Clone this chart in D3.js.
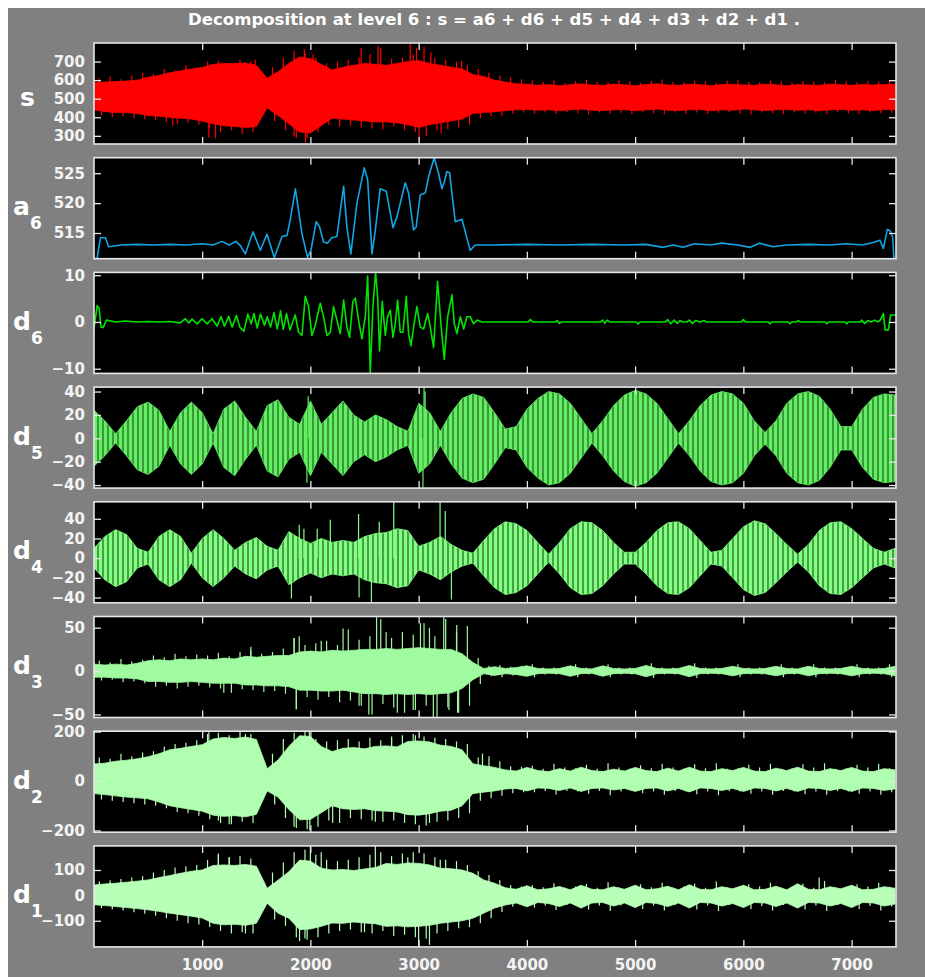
<!DOCTYPE html>
<html>
<head>
<meta charset="utf-8">
<script src="https://cdn.jsdelivr.net/npm/d3@7"></script>
<style>
  body { margin: 0; background: #fff; }
</style>
</head>
<body>
<div id="chart"></div>
<script>
// signal length and the grid (every 100 samples) the envelopes were read on
const nSamples = 7410;
const envStep = 100;
const xTicks = [1000, 2000, 3000, 4000, 5000, 6000, 7000];

// s : upper / lower envelope (t = 0, 100, ...), and outer fringe (t = 50, 150, ...)
const sUpper = [585,590,592,595,600,615,625,640,650,660,668,685,690,690,692,680,610,645,690,725,
  715,685,655,670,680,690,685,680,690,700,705,690,680,670,660,630,620,600,590,580,
  578,572,576,570,575,580,574,572,578,575,570,576,580,574,572,578,575,570,576,578,
  574,572,578,575,570,576,574,572,578,575,572,576,574,576,578];
const sLower = [440,430,425,425,420,410,405,400,395,390,380,365,355,350,345,350,450,410,365,320,
  315,355,395,390,385,380,375,375,370,360,345,360,370,380,390,420,425,430,435,440,
  442,438,440,435,440,444,438,436,440,442,435,440,444,438,436,440,442,435,440,438,
  444,440,436,440,442,438,440,435,440,442,438,440,436,442,440];
const sFringeUp = [610,620,605,625,640,635,660,650,680,670,700,705,690,710,700,640,670,720,760,745,
  720,690,700,710,720,740,775,715,720,740,780,720,710,700,680,660,640,625,615,605,
  600,590,598,585,595,602,590,588,600,594,585,596,603,590,588,598,594,586,597,600,
  590,588,598,594,586,596,592,588,600,594,588,596,592,598];
const sFringeDown = [410,400,405,395,390,385,375,365,370,360,345,320,330,310,320,430,380,330,290,285,
  320,360,350,355,345,340,335,350,330,320,300,330,335,345,360,395,405,410,420,425,
  420,425,418,428,422,415,426,420,424,418,428,422,416,425,420,426,418,424,428,420,
  416,425,422,418,426,420,424,418,427,421,417,425,422,424];
const sSpikeT = [728,1062,1124,1490,1849,1944,1954,2025,2469,2626,2922,2980,3004,3113,3208,3398];
const sSpikeV = [356,290,286,710,295,766,263,740,775,784,798,775,268,749,312,705];

// a6 : approximation (line)
const a6T = [1,30,60,106,137,250,400,550,700,850,1000,1100,1183,1250,1313,1353,1399,1470,1537,1599,
  1667,1738,1784,1814,1861,1922,1974,2005,2054,2085,2122,2156,2199,2245,2307,2337,2374,2430,2498,2529,
  2569,2600,2645,2701,2763,2800,2876,2907,2953,2977,3015,3062,3093,3144,3184,3215,3236,3261,3286,3338,
  3400,3476,3522,3700,4000,4300,4600,4900,5100,5260,5350,5443,5550,5700,5800,5950,6062,6150,6274,6400,
  6600,6800,6950,7100,7200,7262,7293,7330,7354,7380,7390,7410];
const a6V = [510.7,510.8,514.2,514.2,512.7,513.0,513.1,513.0,513.1,513.0,513.2,513.0,513.6,513.0,513.6,512.9,511.5,515.2,512.1,514.8,
  510.9,514.4,514.6,517.2,522.4,514.9,510.9,512.1,516.9,516.0,513.5,513.3,514.2,514.4,522.8,516.0,511.5,520.0,525.9,523.9,
  511.5,515.5,522.4,522.0,515.9,517.7,523.4,521.7,515.5,516.0,521.4,521.7,524.5,527.6,525.0,522.4,523.5,525.3,525.1,516.9,
  517.3,512.1,513.0,513.0,513.1,513.0,513.1,513.0,513.1,512.6,513.0,512.6,513.2,513.0,513.3,513.0,512.6,513.3,512.7,513.0,
  513.1,513.0,513.2,513.0,513.4,513.8,512.4,515.6,515.4,514.2,510.7,510.7];

// d6 : detail (line)
const d6T = [1,30,48,66,85,116,200,291,400,500,600,700,799,845,876,907,953,999,1046,1092,
  1138,1175,1206,1246,1277,1317,1348,1385,1422,1453,1478,1509,1539,1576,1601,1632,1663,1694,1724,1749,
  1780,1811,1860,1891,1922,1953,1983,2014,2045,2091,2122,2153,2184,2214,2245,2276,2307,2338,2362,2393,
  2415,2445,2476,2507,2529,2553,2578,2602,2621,2639,2664,2692,2713,2738,2763,2784,2806,2830,2855,2886,
  2907,2929,2954,2984,3015,3046,3083,3108,3138,3175,3206,3237,3268,3308,3329,3354,3385,3416,3446,3477,
  3508,3539,3585,3800,4010,4032,4055,4260,4278,4300,4320,4680,4700,4720,4740,4769,5010,5028,5046,5280,
  5300,5330,5360,5390,5415,5440,5480,5500,5530,5560,5600,5640,5661,5980,6000,6020,6230,6245,6260,6415,
  6430,6450,6490,6508,6525,6755,6770,6785,6940,6955,6970,7080,7092,7120,7150,7180,7215,7240,7262,7293,
  7310,7340,7360,7410];
const d6V = [-1.5,3.5,2.9,-1.1,-1.2,0.4,0,0.2,0,0.1,0,0.1,-0.2,0.7,-0.2,0.6,-0.4,0.7,-0.4,0.7,
  -0.9,1.1,-0.9,1.2,-1.1,1.4,-1.1,-2.0,1.7,-0.4,1.8,-1.3,1.7,-0.7,1.1,-1.1,2.0,-1.5,2.4,-1.6,
  1.8,-1.7,1.5,-2.2,-2.9,5.5,3.3,-2.9,-0.7,4.0,1.1,-2.9,-2.2,3.3,0.4,-2.5,4.7,-1.1,-3.3,4.4,
  5.1,0.4,-3.6,1.1,9.8,-10.9,3.3,10.6,5.5,-6.2,4.4,-2.9,1.1,2.5,-3.3,-0.4,4.7,-2.2,-2.2,5.5,
  -2.5,-5.1,-1.1,3.3,-1.1,-1.5,1.8,-1.1,-5.5,8.7,-0.4,-8.0,1.1,5.8,-0.4,-2.5,1.1,-1.5,1.1,1.1,
  -0.4,0.4,0,0,0,0.5,0,0,0.3,-0.3,0,0,0.4,-0.3,0.4,0,0,-0.4,0,0,
  0.5,-0.4,0.4,-0.3,0.3,0,0,0.4,-0.3,0.3,0,0.3,0,0,0.5,0,0,-0.4,0,0,
  -0.4,0,0,0.3,0,0,-0.4,0,0,-0.4,0,0,0.4,-0.3,0.3,0,0.4,0,0.3,1.8,
  -1.7,-1.7,1.5,1.5];

// d5, d4 : amplitude of the oscillation (symmetric envelope)
const d5Amp = [24,15,4,15,27,31,24,6,22,31,22,4,25,32,18,6,28,33,18,12,
  32,12,22,32,20,14,20,16,10,6,30,22,6,22,34,38,35,22,8,10,
  25,34,40,38,30,17,4,15,28,37,41,38,30,17,4,15,28,37,40,38,
  30,15,5,15,30,38,40,36,25,10,10,25,35,38,37];
const d5SpikeT = [1968,1980,3040,3050,3060];
const d5SpikeV = [-38,36,-42,44,40];

const d4Amp = [10,22,29,24,10,6,22,29,22,5,20,29,20,8,16,21,12,8,27,20,
  15,20,16,18,16,22,25,26,30,28,12,16,22,14,8,5,18,30,37,35,
  28,16,4,16,30,37,36,28,16,6,6,16,28,36,37,30,18,6,8,20,
  32,38,35,25,14,4,14,28,36,37,30,20,10,6,10];
const d4SpikeT = [1825,1897,1940,2063,2184,2445,2450,2564,2636,2770,3198,3246,3303];
const d4SpikeV = [-41,34,30,30,39,45,-40,-46,37,57,58,48,-42];

// d3, d2, d1 : upper / lower envelope and outer fringe
const d3Upper = [8,7,8,7,9,12,13,12,14,13,14,13,15,14,17,16,17,18,18,22,
  23,22,24,23,24,25,25,26,25,26,27,26,25,25,20,10,3,5,3,4,
  6,3,2.5,3,6,3,2.5,6,3,2.5,3,6.5,3,2.5,3,6.5,3,2.5,3,5.5,
  3,2.5,3,5.5,3,2.5,5.5,3,2.5,3,5.5,3,2.5,3,5.5];
const d3Lower = [-7,-7,-8,-8,-9,-12,-12,-13,-13,-12,-13,-14,-14,-14,-16,-16,-17,-17,-18,-22,
  -22,-23,-23,-22,-24,-26,-26,-27,-26,-27,-26,-27,-26,-25,-20,-10,-3,-5,-3,-4,
  -6,-3,-2.5,-3,-6,-3,-2.5,-6,-3,-2.5,-3,-6.5,-3,-2.5,-3,-6.5,-3,-2.5,-3,-5.5,
  -3,-2.5,-3,-5.5,-3,-2.5,-5.5,-3,-2.5,-3,-5.5,-3,-2.5,-3,-5.5];
const d3FringeUp = [12,10,14,11,13,18,16,20,17,19,18,21,17,22,24,20,22,26,38,30,
  32,35,30,48,36,40,60,38,45,42,55,40,60,45,52,15,6,7,5,6,
  8,4,4,4,8,4,4,8,4,4,4,9,4,4,4,9,4,4,4,8,
  4,4,4,8,4,4,8,4,4,4,8,4,4,8];
const d3FringeDown = [-11,-10,-13,-12,-14,-18,-17,-20,-18,-17,-19,-20,-25,-21,-22,-24,-23,-26,-44,-30,
  -33,-30,-36,-34,-40,-50,-38,-42,-48,-45,-40,-54,-42,-48,-40,-15,-6,-7,-5,-6,
  -7,-4,-4,-4,-7,-4,-4,-7,-4,-4,-4,-8,-4,-4,-4,-8,-4,-4,-4,-7,
  -4,-4,-4,-7,-4,-4,-7,-4,-4,-4,-7,-4,-4,-7];
const d3SpikeT = [1200,1450,1849,1870,1897,2100,2302,2450,2540,2612,2700,2803,2950,3017,3100,3136,3232,3280,3352,3360];
const d3SpikeV = [-25,28,38,-44,40,35,49,-40,-50,62,45,-48,-45,55,50,-54,62,-45,53,-48];

const d2Upper = [69,72,80,84,90,98,110,126,132,140,147,170,176,172,178,168,50,85,140,183,
  180,140,119,132,135,130,140,142,138,160,162,158,145,140,126,70,62,55,
  45,40,55,42,38,50,40,56,42,38,48,40,55,42,38,52,40,56,40,38,
  50,42,55,40,38,52,42,56,40,38,50,42,55,40,38,50,45];
const d2Lower = [-51,-55,-60,-65,-68,-72,-85,-100,-108,-115,-122,-138,-143,-140,-145,-135,-40,-65,-115,-157,
  -155,-128,-100,-112,-115,-112,-120,-122,-125,-136,-138,-132,-122,-118,-100,-51,-45,-40,
  -32,-30,-40,-28,-30,-38,-28,-42,-30,-28,-36,-30,-42,-30,-28,-40,-30,-44,-28,-30,
  -38,-30,-42,-28,-30,-40,-30,-42,-28,-30,-38,-30,-42,-28,-30,-38,-32];
const d2FringeUp = [95,90,110,100,115,120,140,150,155,165,190,195,185,200,190,60,110,170,195,200,
  170,160,165,170,160,175,165,180,185,190,180,175,170,160,150,95,100,80,60,58,
  62,50,70,55,52,66,50,72,55,50,64,52,70,55,50,68,52,72,50,52,
  66,55,70,50,52,68,55,72,50,52,66,55,70,52];
const d2FringeDown = [-75,-80,-85,-90,-95,-100,-110,-125,-130,-140,-155,-170,-175,-165,-170,-55,-95,-150,-190,-195,
  -185,-160,-170,-150,-155,-160,-165,-160,-170,-175,-180,-165,-160,-150,-130,-80,-70,-60,-50,-45,
  -45,-40,-55,-40,-42,-52,-40,-58,-42,-40,-50,-42,-56,-40,-42,-54,-42,-58,-40,-42,
  -52,-42,-56,-40,-42,-54,-42,-56,-40,-42,-52,-42,-56,-45];
const d2SpikeT = [1062,1150,1250,1400,1849,1990,1995,2206,2600,2750,2970,3100,3590];
const d2SpikeV = [197,-160,-175,190,-185,200,-200,-170,-165,175,185,-170,111];

const d1Upper = [41,45,48,52,56,61,70,78,87,95,100,118,120,118,122,115,28,60,93,139,
  135,107,100,102,98,104,110,126,122,128,126,120,107,105,100,87,61,48,
  30,24,38,22,26,35,22,40,24,22,34,24,40,22,26,36,22,42,24,22,
  34,26,40,22,24,36,22,46,24,22,34,26,40,22,24,34,28];
const d1Lower = [-37,-40,-44,-48,-52,-57,-63,-70,-76,-82,-89,-110,-116,-114,-118,-110,-31,-70,-90,-135,
  -132,-122,-109,-110,-105,-109,-112,-122,-120,-124,-122,-118,-110,-105,-100,-90,-70,-50,
  -38,-30,-45,-28,-32,-44,-30,-50,-30,-28,-42,-30,-48,-28,-32,-44,-30,-50,-28,-30,
  -42,-32,-48,-28,-30,-44,-30,-50,-28,-30,-42,-32,-48,-28,-30,-42,-34];
const d1FringeUp = [55,60,65,70,75,90,100,110,115,120,140,160,150,155,145,45,90,130,170,180,
  160,140,135,140,150,160,170,155,165,170,165,150,140,135,120,95,80,60,40,35,
  40,32,48,30,35,45,30,52,32,30,44,32,50,30,35,46,30,55,32,30,
  44,35,50,30,32,46,30,56,32,30,44,35,50,34];
const d1FringeDown = [-50,-55,-60,-66,-72,-80,-90,-100,-110,-115,-125,-140,-150,-145,-150,-45,-95,-120,-165,-175,
  -165,-150,-140,-135,-145,-150,-140,-160,-155,-165,-170,-150,-140,-130,-125,-110,-90,-65,-45,-40,
  -48,-40,-58,-38,-42,-56,-40,-62,-40,-38,-54,-40,-60,-38,-42,-56,-40,-62,-38,-40,
  -54,-42,-60,-38,-40,-56,-40,-62,-38,-40,-54,-42,-60,-44];
const d1SpikeT = [1150,1250,1400,1900,1950,2000,2100,2500,2600,2900,3000,3100,3200,6700];
const d1SpikeV = [165,150,-150,-180,-170,194,170,-145,195,150,-200,-195,140,70];

// ---------------------------------------------------------------
const width = 925, height = 977;
const plotLeft = 94, plotRight = 896;
const panelTop = 43, panelStep = 114.7, panelHeight = 101;
const envT = d3.range(0, nSamples, envStep);

const panels = [
  {name: 's', sub: '', kind: 'env', up: sUpper, lo: sLower, fUp: sFringeUp, fDown: sFringeDown, base: 510,
   spT: sSpikeT, spV: sSpikeV, domain: [256, 800], ticks: [300, 400, 500, 600, 700], color: '#ff0000'},
  {name: 'a', sub: '6', kind: 'line', t: a6T, v: a6V, domain: [510.7, 527.6], ticks: [515, 520, 525], color: '#14a4e4'},
  {name: 'd', sub: '6', kind: 'line', t: d6T, v: d6V, domain: [-11, 10.6], ticks: [-10, 0, 10], color: '#00e400'},
  {name: 'd', sub: '5', kind: 'amp', amp: d5Amp, base: 0, spT: d5SpikeT, spV: d5SpikeV,
   domain: [-42.6, 43.8], ticks: [-40, -20, 0, 20, 40], color: '#62f062'},
  {name: 'd', sub: '4', kind: 'amp', amp: d4Amp, base: 0, spT: d4SpikeT, spV: d4SpikeV,
   domain: [-45.4, 57.3], ticks: [-40, -20, 0, 20, 40], color: '#80ff80'},
  {name: 'd', sub: '3', kind: 'env', up: d3Upper, lo: d3Lower, fUp: d3FringeUp, fDown: d3FringeDown, base: 0,
   spT: d3SpikeT, spV: d3SpikeV, domain: [-53.5, 62.9], ticks: [-50, 0, 50], color: '#a0faa0'},
  {name: 'd', sub: '2', kind: 'env', up: d2Upper, lo: d2Lower, fUp: d2FringeUp, fDown: d2FringeDown, base: 0,
   spT: d2SpikeT, spV: d2SpikeV, domain: [-207, 201.4], ticks: [-200, 0, 200], color: '#b0ffb0'},
  {name: 'd', sub: '1', kind: 'env', up: d1Upper, lo: d1Lower, fUp: d1FringeUp, fDown: d1FringeDown, base: 0,
   spT: d1SpikeT, spV: d1SpikeV, domain: [-203, 195], ticks: [-100, 0, 100], color: '#b8ffb8'}
];

const svg = d3.select('#chart').append('svg')
  .attr('width', width)
  .attr('height', height);

const defs = svg.append('defs');

// figure background
svg.append('rect')
  .attr('x', 8).attr('y', 8)
  .attr('width', width - 8).attr('height', height - 8)
  .attr('fill', '#808080');

// title
svg.append('text')
  .attr('x', 494).attr('y', 25)
  .attr('text-anchor', 'middle')
  .attr('fill', '#ffffff')
  .attr('font-family', 'DejaVu Sans, sans-serif')
  .attr('font-weight', 'bold')
  .attr('font-size', '15px')
  .attr('textLength', 612)
  .attr('lengthAdjust', 'spacingAndGlyphs')
  .text('Decomposition at level 6 : s = a6 + d6 + d5 + d4 + d3 + d2 + d1 .');

const x = d3.scaleLinear().domain([1, nSamples]).range([plotLeft, plotRight]);
const frameColor = '#e6e6e6';

panels.forEach((p, i) => {
  const top = panelTop + i * panelStep;
  const bottom = top + panelHeight;
  const y = d3.scaleLinear().domain(p.domain).range([bottom, top]);

  const g = svg.append('g').attr('class', 'panel panel-' + i);

  // black plot area
  g.append('rect')
    .attr('x', plotLeft).attr('y', top)
    .attr('width', plotRight - plotLeft).attr('height', panelHeight)
    .attr('fill', '#000');

  const clipId = 'clip-' + i;
  defs.append('clipPath').attr('id', clipId)
    .append('rect')
    .attr('x', plotLeft).attr('y', top)
    .attr('width', plotRight - plotLeft).attr('height', panelHeight);

  const plot = g.append('g').attr('clip-path', 'url(#' + clipId + ')');

  if (p.kind === 'line') {
    const line = d3.line()
      .x((d, k) => x(p.t[k]))
      .y(d => y(d));
    plot.append('path')
      .attr('d', line(p.v))
      .attr('fill', 'none')
      .attr('stroke', p.color)
      .attr('stroke-width', 1.6)
      .attr('stroke-linejoin', 'round');
  } else {
    let up, lo, fill = p.color;
    if (p.kind === 'amp') {
      up = p.amp;
      lo = p.amp.map(a => -a);
      // vertical dark stripes of the oscillation
      const patId = 'stripes-' + i;
      const pat = defs.append('pattern').attr('id', patId)
        .attr('patternUnits', 'userSpaceOnUse')
        .attr('x', plotLeft).attr('width', 5).attr('height', 10);
      pat.append('rect').attr('width', 5).attr('height', 10).attr('fill', p.color);
      pat.append('rect').attr('x', 3.5).attr('width', 1).attr('height', 10).attr('fill', '#153d15');
      fill = 'url(#' + patId + ')';
    } else {
      up = p.up;
      lo = p.lo;
    }

    // ragged outer fringe, one stroke up and one down between envelope points
    if (p.fUp) {
      const fr = plot.append('g').attr('class', 'fringe')
        .attr('stroke', p.color).attr('stroke-width', 1.2);
      fr.selectAll('line.up')
        .data(p.fUp)
        .enter().append('line').attr('class', 'up')
          .attr('x1', (d, k) => x(envT[k] + 50)).attr('x2', (d, k) => x(envT[k] + 50))
          .attr('y1', y(p.base)).attr('y2', d => y(d));
      fr.selectAll('line.down')
        .data(p.fDown)
        .enter().append('line').attr('class', 'down')
          .attr('x1', (d, k) => x(envT[k] + 70)).attr('x2', (d, k) => x(envT[k] + 70))
          .attr('y1', y(p.base)).attr('y2', d => y(d));
    }

    const area = d3.area()
      .x((d, k) => x(envT[k] + 1))
      .y0((d, k) => y(lo[k]))
      .y1(d => y(d));
    plot.append('path')
      .attr('d', area(up))
      .attr('fill', fill)
      .attr('stroke', p.color)
      .attr('stroke-width', 0.8);

    plot.append('g').selectAll('line')
      .data(p.spT)
      .enter().append('line')
        .attr('x1', d => x(d)).attr('x2', d => x(d))
        .attr('y1', y(p.base))
        .attr('y2', (d, k) => y(p.spV[k]))
        .attr('stroke', p.color)
        .attr('stroke-width', 1.2);
  }

  // axes: ticks inside on all four sides
  const styleAxis = sel => {
    sel.select('.domain').remove();
    sel.selectAll('line').attr('stroke', frameColor).attr('stroke-width', 1.3);
    sel.attr('font-family', 'DejaVu Sans, sans-serif')
      .attr('font-weight', 'bold')
      .attr('font-size', '15px');
    sel.selectAll('text').attr('fill', '#f4f4f4');
  };

  g.append('g')
    .attr('transform', 'translate(' + plotLeft + ',0)')
    .call(d3.axisLeft(y).tickValues(p.ticks).tickSize(-7).tickPadding(9))
    .call(styleAxis);

  g.append('g')
    .attr('transform', 'translate(' + plotRight + ',0)')
    .call(d3.axisRight(y).tickValues(p.ticks).tickSize(-7).tickFormat(''))
    .call(styleAxis);

  g.append('g')
    .attr('transform', 'translate(0,' + top + ')')
    .call(d3.axisTop(x).tickValues(xTicks).tickSize(-7).tickFormat(''))
    .call(styleAxis);

  const isLast = i === panels.length - 1;
  g.append('g')
    .attr('transform', 'translate(0,' + bottom + ')')
    .call(d3.axisBottom(x).tickValues(xTicks).tickSize(-7).tickPadding(12)
      .tickFormat(isLast ? d3.format('d') : ''))
    .call(styleAxis);

  // frame
  g.append('rect')
    .attr('x', plotLeft).attr('y', top)
    .attr('width', plotRight - plotLeft).attr('height', panelHeight)
    .attr('fill', 'none')
    .attr('stroke', frameColor)
    .attr('stroke-width', 1.6);

  // panel label, e.g. d with subscript 5
  const cy = (top + bottom) / 2;
  const label = g.append('text')
    .attr('x', p.sub ? 13 : 20)
    .attr('y', cy + (p.sub ? 7 : 12))
    .attr('fill', '#ffffff')
    .attr('font-family', 'DejaVu Sans, sans-serif')
    .attr('font-weight', 'bold')
    .attr('font-size', '25px');
  label.append('tspan').text(p.name);
  if (p.sub) {
    label.append('tspan')
      .attr('dy', 14)
      .attr('font-size', '17px')
      .text(p.sub);
  }
});
</script>
</body>
</html>
